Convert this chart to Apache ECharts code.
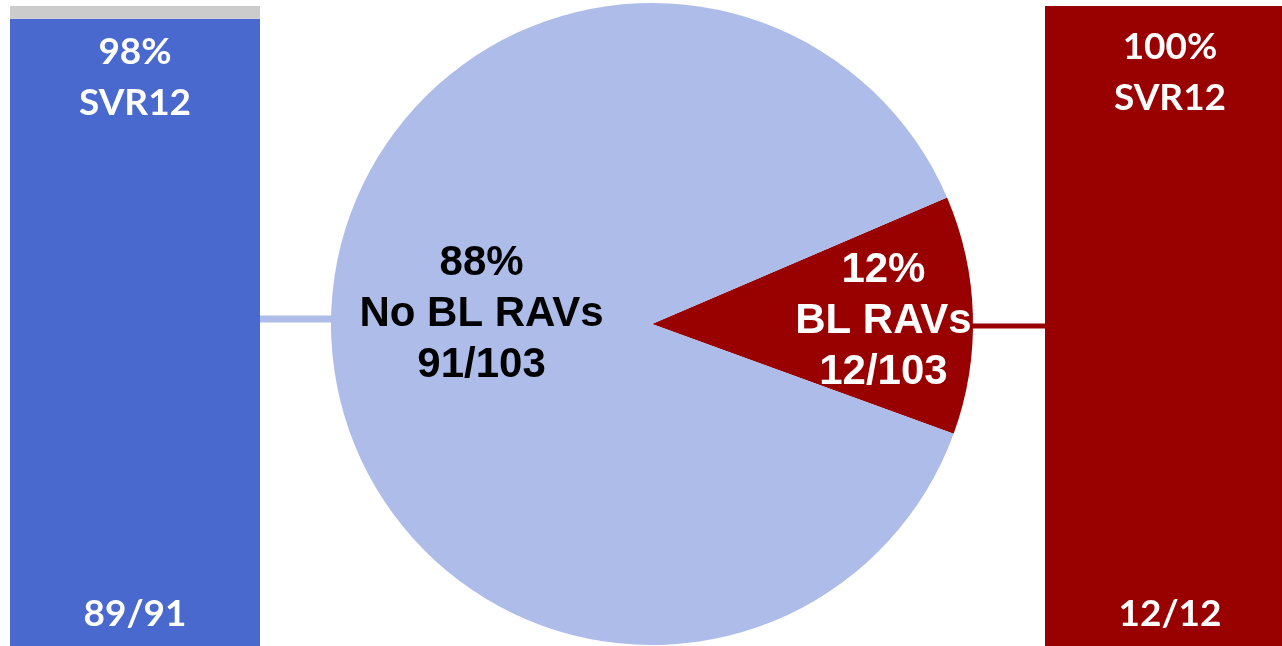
<!DOCTYPE html>
<html>
<head>
<meta charset="utf-8">
<script src="https://cdn.jsdelivr.net/npm/echarts@6/dist/echarts.min.js"></script>
<style>
  html, body { margin: 0; padding: 0; background: #fff; }
  #chart { width: 1282px; height: 646px; }
</style>
</head>
<body>
<div id="chart"></div>
<script>
// Baseline RAV split (pie) and SVR12 in each subgroup (bars).
const groups = ['No BL RAVs', 'BL RAVs'];
const sharePct = [88, 12];
const shareFrac = ['91/103', '12/103'];
const svrPct = [98, 100];
const svrFrac = ['89/91', '12/12'];

const BLUE = '#4a69cf';
const LIGHT = '#adbce8';
const RED = '#990000';
const GREY = '#cccccc';

const barFont = { fontFamily: 'Lato, "Open Sans", sans-serif', fontWeight: 'bold', fontSize: 37, lineHeight: 51, color: '#fff' };
const pieFont = { fontFamily: '"Liberation Sans", Arial, sans-serif', fontWeight: 'bold', fontSize: 42, lineHeight: 51 };

const PIE_C = [652, 324];
const PIE_R = 321;

function svrBar(i, axis, color, distance) {
  return {
    type: 'bar',
    xAxisIndex: axis,
    yAxisIndex: axis,
    stack: 'g' + axis,
    barWidth: '100%',
    data: [svrPct[i]],
    itemStyle: { color },
    silent: true,
    label: {
      show: true,
      position: 'insideTop',
      distance,
      formatter: svrPct[i] + '%\nSVR12',
      ...barFont,
    },
    markPoint: {
      symbol: 'circle',
      symbolSize: 0,
      data: [{ coord: [0, 5], value: svrFrac[i] }],
      label: { show: true, position: 'inside', formatter: svrFrac[i], ...barFont },
    },
  };
}

const chart = echarts.init(document.getElementById('chart'));
chart.setOption({
  animation: false,
  backgroundColor: '#fff',
  grid: [
    { left: 10, width: 250, top: 6, bottom: 0, outerBoundsMode: 'none' },
    { left: 1045, width: 250, top: 6, bottom: 0, outerBoundsMode: 'none' },
  ],
  xAxis: [0, 1].map(g => ({ type: 'category', gridIndex: g, data: [groups[g]], show: false })),
  yAxis: [0, 1].map(g => ({ type: 'value', gridIndex: g, min: 0, max: 100, show: false })),
  graphic: [
    { type: 'line', z: 0, shape: { x1: 260, y1: 319, x2: PIE_C[0] - PIE_R + 2, y2: 319 }, style: { stroke: LIGHT, lineWidth: 7 } },
    { type: 'line', z: 0, shape: { x1: PIE_C[0] + PIE_R - 4, y1: 326, x2: 1045, y2: 326 }, style: { stroke: RED, lineWidth: 5 } },
  ],
  series: [
    svrBar(0, 0, BLUE, 8),
    {
      type: 'bar', xAxisIndex: 0, yAxisIndex: 0, stack: 'g0', barWidth: '100%',
      data: [100 - svrPct[0]], itemStyle: { color: GREY }, silent: true,
    },
    svrBar(1, 1, RED, 16),
    {
      type: 'pie',
      z: 3,
      center: PIE_C,
      radius: PIE_R,
      startAngle: 23.2,
      silent: true,
      data: [
        { name: groups[1], value: sharePct[1], itemStyle: { color: RED }, label: { color: '#fff' } },
        { name: groups[0], value: sharePct[0], itemStyle: { color: LIGHT }, label: { color: '#000' } },
      ],
      label: {
        show: true,
        position: 'inside',
        formatter: p => {
          const i = groups.indexOf(p.name);
          return sharePct[i] + '%\n' + groups[i] + '\n' + shareFrac[i];
        },
        ...pieFont,
      },
      labelLayout: p => (p.dataIndex === 0 ? { dx: 68, dy: 2 } : { dx: -7, dy: -14 }),
      labelLine: { show: false },
    },
  ],
});
</script>
</body>
</html>
